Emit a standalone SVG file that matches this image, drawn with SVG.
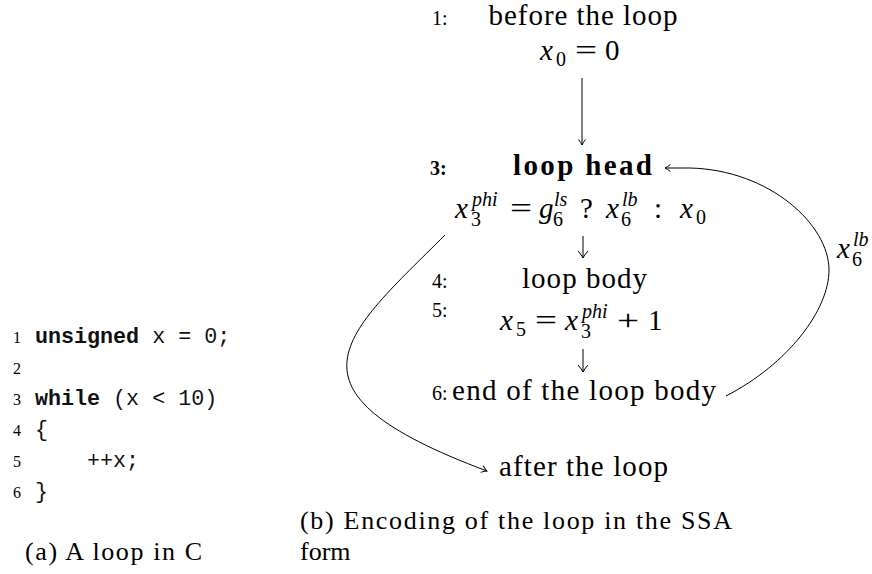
<svg xmlns="http://www.w3.org/2000/svg" width="872" height="574" viewBox="0 0 872 574">
<style>
text { font-family: "Liberation Serif", "DejaVu Serif", "Noto Serif", "Times New Roman", serif; fill: #000; }
.big { font-size: 29px; }
.it { font-style: italic; }
.sc { font-size: 20px; }
.lbl { font-size: 20px; }
.b { font-weight: bold; }
.code { font-family: "Liberation Mono", "Courier New", monospace; font-size: 21.7px; fill: #111; }
.kw { font-weight: bold; }
.ln { font-size: 16px; }
.cap { font-size: 26px; }
.edge { fill: none; stroke: #000; stroke-width: 1; }
</style>
<defs>
<marker id="ah" markerWidth="10" markerHeight="12" viewBox="-8 -6 10 12" refX="0" refY="0" orient="auto" markerUnits="userSpaceOnUse">
<path d="M-5.5,-3.5 Q-2,-0.8 0,0 Q-2,0.8 -5.5,3.5" fill="none" stroke="#000" stroke-width="1"/>
</marker>
<marker id="ah2" markerWidth="12" markerHeight="14" viewBox="-10 -7 12 14" refX="0" refY="0" orient="auto" markerUnits="userSpaceOnUse">
<path d="M-7,-5 Q-2.5,-1 0,0 Q-2.5,1 -7,5" fill="none" stroke="#000" stroke-width="1"/>
</marker>
</defs>

<g id="n1">
<text class="lbl" x="432" y="25">1:</text>
<text class="big" x="583" y="25" text-anchor="middle" textLength="189" lengthAdjust="spacing">before the loop</text>
<text class="big it" x="540" y="60">x</text>
<text class="sc" x="556" y="66">0</text>
<text class="big" transform="translate(575,60) scale(1.35,1)">=</text>
<text class="big" x="605" y="60">0</text>
</g>

<g id="n3">
<text class="lbl b" x="430" y="175">3:</text>
<text class="big b" x="582.5" y="175" text-anchor="middle" textLength="139" lengthAdjust="spacing">loop head</text>
<text class="big it" x="455" y="218">x</text>
<text class="sc it" x="472" y="206">phi</text>
<text class="sc" x="471" y="226">3</text>
<text class="big" transform="translate(510,218) scale(1.35,1)">=</text>
<text class="big it" x="539" y="218">g</text>
<text class="sc it" x="554" y="206">ls</text>
<text class="sc" x="553" y="226">6</text>
<text class="big" x="580" y="218">?</text>
<text class="big it" x="606" y="218">x</text>
<text class="sc it" x="622" y="206">lb</text>
<text class="sc" x="621" y="226">6</text>
<text class="big" x="654" y="218">:</text>
<text class="big it" x="680" y="218">x</text>
<text class="sc" x="696" y="224">0</text>
</g>

<g id="n4">
<text class="lbl" x="432" y="288">4:</text>
<text class="big" x="584.5" y="288" text-anchor="middle" textLength="125" lengthAdjust="spacing">loop body</text>
</g>

<g id="n5">
<text class="lbl" x="432" y="317">5:</text>
<text class="big it" x="500" y="330">x</text>
<text class="sc" x="516" y="336">5</text>
<text class="big" transform="translate(535,330) scale(1.35,1)">=</text>
<text class="big it" x="565" y="330">x</text>
<text class="sc it" x="582" y="318">phi</text>
<text class="sc" x="581" y="338">3</text>
<text class="big" transform="translate(617,330) scale(1.35,1)">+</text>
<text class="big" x="648" y="330">1</text>
</g>

<g id="n6">
<text class="lbl" x="432" y="400">6:</text>
<text class="big" x="452" y="400" textLength="264" lengthAdjust="spacing">end of the loop body</text>
</g>

<g id="n7">
<text class="big" x="499" y="476" textLength="169" lengthAdjust="spacing">after the loop</text>
</g>

<g id="edges">
<path class="edge" d="M582,78 V145" marker-end="url(#ah)"/>
<path class="edge" d="M583,236 V258" marker-end="url(#ah2)"/>
<path class="edge" d="M583,349 V372" marker-end="url(#ah2)"/>
<path class="edge" d="M726,396 C788,364 829,310 829,270 C829,225 770,170 690,168 L665,168" marker-end="url(#ah)"/>
<path class="edge" d="M445,235 C345,335 270,390 487,471" marker-end="url(#ah)"/>
<text class="big it" x="837" y="258">x</text>
<text class="sc it" x="853" y="246">lb</text>
<text class="sc" x="852" y="266">6</text>
</g>

<g id="code">
<text class="ln" x="13" y="343">1</text>
<text class="ln" x="13" y="374">2</text>
<text class="ln" x="13" y="405">3</text>
<text class="ln" x="13" y="436">4</text>
<text class="ln" x="13" y="467">5</text>
<text class="ln" x="13" y="498">6</text>
<text class="code" x="35" y="343"><tspan class="kw">unsigned</tspan> x = 0;</text>
<text class="code" x="35" y="405"><tspan class="kw">while</tspan> (x &lt; 10)</text>
<text class="code" x="35" y="436">{</text>
<text class="code" x="87" y="467">++x;</text>
<text class="code" x="35" y="498">}</text>
</g>

<g id="captions">
<text class="cap" x="25" y="560" textLength="177" lengthAdjust="spacing">(a) A loop in C</text>
<text class="cap" x="300" y="529" textLength="432" lengthAdjust="spacing">(b) Encoding of the loop in the SSA</text>
<text class="cap" x="300" y="560">form</text>
</g>
</svg>
